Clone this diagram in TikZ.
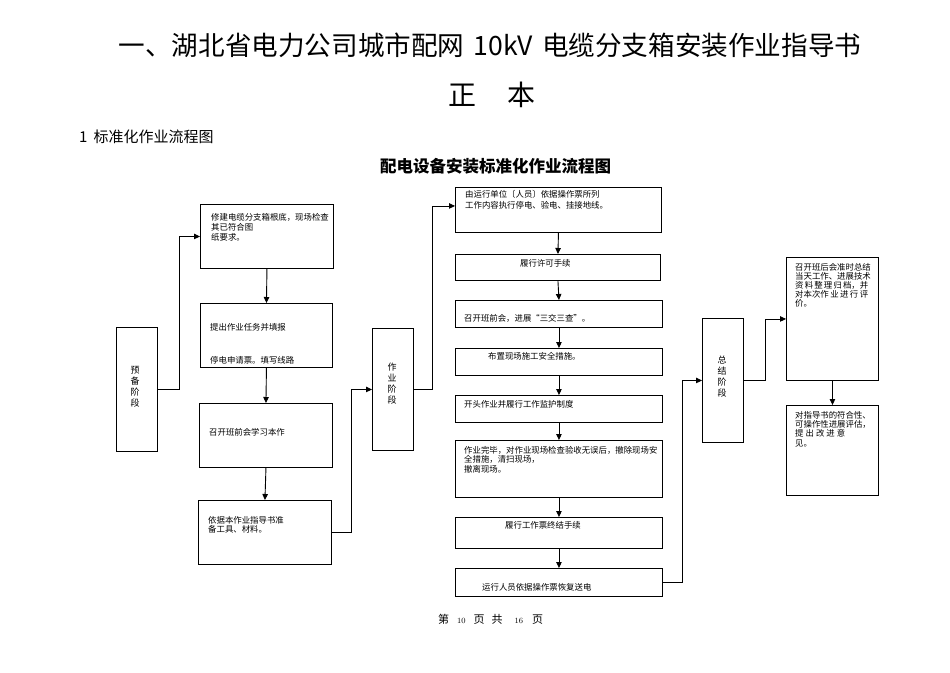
\documentclass[tikz,border=0pt]{standalone}
\usepackage{fontspec}
\newfontfamily\cjk{Noto Sans CJK SC}
\usetikzlibrary{arrows.meta,shadows}
\begin{document}
\begin{tikzpicture}[x=1pt,y=-1pt,
  box/.style={draw=black, line width=0.9pt, inner sep=0pt, fill=white,
    drop shadow={shadow xshift=1pt, shadow yshift=-1pt, fill=black!45, opacity=1}},
  arr/.style={draw=black, line width=0.9pt, -{Triangle[length=6pt,width=5.5pt]}},
  txt/.style={font=\cjk\fontsize{8.4}{10}\selectfont, anchor=west, inner sep=0pt},
  mtxt/.style={txt, anchor=north west, align=left},
  stage/.style={font=\cjk\fontsize{9}{11}\selectfont, align=center, inner sep=0pt}]
\fill[white] (0,0) rectangle (950,672);
\useasboundingbox (0,0) rectangle (950,672);

% headings
\node[font=\cjk\fontsize{26.6}{30}\selectfont, inner sep=0pt] (title) at (490,45) {一、湖北省电力公司城市配网\hspace{9pt}10kV\hspace{9pt}电缆分支箱安装作业指导书};
\node[font=\cjk\fontsize{28}{30}\selectfont, inner sep=0pt] (zb) at (492,95) {正\hspace{31pt}本};
\node[font=\cjk\fontsize{15}{18}\selectfont, inner sep=0pt, anchor=west] (sec) at (79,137) {1\hspace{6pt}标准化作业流程图};
\node[font=\cjk\bfseries\fontsize{16.5}{18}\selectfont, inner sep=0pt, anchor=west] (sub) at (380,166) {配电设备安装标准化作业流程图};

% left column
\node[box, anchor=north west, minimum width=41pt, minimum height=124pt] (prep) at (116,327) {};
\node[box, anchor=north west, minimum width=133pt, minimum height=64pt] (b1) at (200,204) {};
\node[box, anchor=north west, minimum width=132pt, minimum height=64pt] (b2) at (200,303) {};
\node[box, anchor=north west, minimum width=133pt, minimum height=64pt] (b3) at (199,403) {};
\node[box, anchor=north west, minimum width=133pt, minimum height=64pt] (b4) at (198,500) {};

% middle
\node[box, anchor=north west, minimum width=41pt, minimum height=122pt] (work) at (372,328) {};
\node[box, anchor=north west, minimum width=206pt, minimum height=45pt] (m1) at (455,187) {};
\node[box, anchor=north west, minimum width=205pt, minimum height=26pt] (m2) at (455,254) {};
\node[box, anchor=north west, minimum width=207pt, minimum height=27pt] (m3) at (455,300) {};
\node[box, anchor=north west, minimum width=207pt, minimum height=27pt] (m4) at (455,348) {};
\node[box, anchor=north west, minimum width=207pt, minimum height=27pt] (m5) at (455,395) {};
\node[box, anchor=north west, minimum width=207pt, minimum height=57pt] (m6) at (455,440) {};
\node[box, anchor=north west, minimum width=207pt, minimum height=31pt] (m7) at (455,517) {};
\node[box, anchor=north west, minimum width=207pt, minimum height=28pt] (m8) at (455,568) {};

% right
\node[box, anchor=north west, minimum width=41pt, minimum height=124pt] (sum) at (702,318) {};
\node[box, anchor=north west, minimum width=92pt, minimum height=123pt] (r1) at (786,257) {};
\node[box, anchor=north west, minimum width=92pt, minimum height=90pt] (r2) at (786,405) {};

% stage labels
\node[stage] (lprep) at (135,387) {预\\备\\阶\\段};
\node[stage] (lwork) at (392,384) {作\\业\\阶\\段};
\node[stage] (lsum) at (722,377) {总\\结\\阶\\段};

% texts left
\node[mtxt, font=\cjk\fontsize{8.4}{10}\selectfont] (t1) at (211,213) {修建电缆分支箱根底，现场检查\\其已符合图\\纸要求。};
\node[txt] (t2a) at (210,327) {提出作业任务并填报};
\node[txt] (t2b) at (210,360) {停电申请票。填写线路};
\node[txt] (t3) at (209,432) {召开班前会学习本作};
\node[mtxt, font=\cjk\fontsize{8.4}{9.5}\selectfont] (t4) at (208,516) {依据本作业指导书准\\备工具、材料。};

% texts middle
\node[mtxt, font=\cjk\fontsize{8.4}{11}\selectfont] (tm1) at (465,190) {由运行单位〔人员〕依据操作票所列\\工作内容执行停电、验电、挂接地线。};
\node[txt] (tm2) at (520,263) {履行许可手续};
\node[txt] (tm3) at (464,318) {召开班前会，进展“三交三查”。};
\node[txt] (tm4) at (488,356) {布置现场施工安全措施。};
\node[txt] (tm5) at (464,404) {开头作业并履行工作监护制度};
\node[mtxt, font=\cjk\fontsize{8.4}{9.5}\selectfont] (tm6) at (464,446) {作业完毕，对作业现场检查验收无误后，撤除现场安\\全措施，清扫现场，\\撤离现场。};
\node[txt] (tm7) at (505,525) {履行工作票终结手续};
\node[txt] (tm8) at (482,587) {运行人员依据操作票恢复送电};

% texts right
\node[mtxt, font=\cjk\fontsize{8.4}{9}\selectfont] (tr1) at (795,263) {召开班后会准时总结\\当天工作、进展技术\\\makebox[73pt][s]{资\hfill 料\hfill 整\hfill 理\hfill 归\hfill 档，并}\\\makebox[73pt][s]{对本次作\hfill 业\hfill 进\hfill 行\hfill 评}\\价。};
\node[mtxt, font=\cjk\fontsize{8.4}{9.3}\selectfont] (tr2) at (795,411) {对指导书的符合性、\\可操作性进展评估，\\\makebox[50pt][s]{提\hfill 出\hfill 改\hfill 进\hfill 意}\\见。};

% footer
\node[font=\cjk\fontsize{11}{13}\selectfont, inner sep=0pt, anchor=west] (foot) at (438,619) {第\hspace{8pt}{\rmfamily\fontsize{8}{9}\selectfont 10}\hspace{8pt}页\hspace{7pt}共\hspace{12pt}{\rmfamily\fontsize{8}{9}\selectfont 16}\hspace{9pt}页};

% connectors
\draw[arr] (prep.east) -- ++(22,0) |- (b1.west);
\draw[arr] (b1.south) -- (b2.north);
\draw[arr] (b2.south) -- (b3.north);
\draw[arr] (b3.south) -- (b4.north);
\draw[arr] (b4.east) -- ++(20,0) |- (work.west);
\draw[arr] (work.east) -- ++(19,0) |- ([yshift=4pt]m1.west);
\draw[arr] (m1.south) -- (m2.north);
\draw[arr] (m2.south) -- (m3.north);
\draw[arr] (m3.south) -- (m4.north);
\draw[arr] (m4.south) -- (m5.north);
\draw[arr] (m5.south) -- (m6.north);
\draw[arr] (m6.south) -- (m7.north);
\draw[arr] (m7.south) -- (m8.north);
\draw[arr] (m8.east) -- ++(20,0) |- (sum.west);
\draw[arr] (sum.east) -- ++(22,0) |- (r1.west);
\draw[arr] (r1.south) -- (r2.north);
\end{tikzpicture}
\end{document}
